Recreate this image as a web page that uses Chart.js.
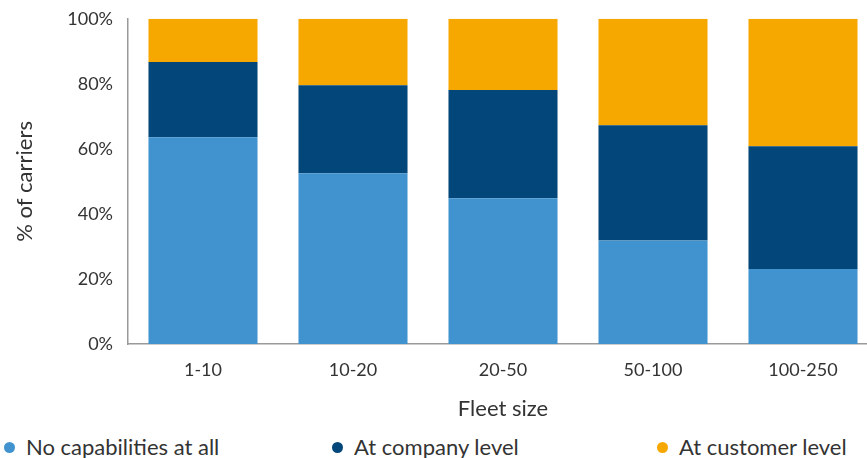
<!DOCTYPE html>
<html>
<head>
<meta charset="utf-8">
<script src="https://cdn.jsdelivr.net/npm/chart.js@4"></script>
<style>
  html, body { margin: 0; padding: 0; background: #fff; overflow: hidden; }
  #wrap { position: relative; width: 867px; height: 458px; overflow: hidden; }
  #chart { position: absolute; left: 0; top: -7px; }
  .legend { position: absolute; top: 433px; font: 22px Lato, sans-serif; line-height: 28px; color: #333; white-space: nowrap; }
  .legend span.dot { display: inline-block; width: 11px; height: 11px; border-radius: 50%; margin-right: 11px; vertical-align: 2px; }
</style>
</head>
<body>
<div id="wrap">
  <canvas id="chart" width="880" height="430"></canvas>
  <div class="legend" id="leg0" style="left:4px"></div>
  <div class="legend" id="leg1" style="left:332px"></div>
  <div class="legend" id="leg2" style="left:657px"></div>
</div>
<script>
// Share of carriers by fleet size, stacked to 100%
const fleetSizes = ["1-10", "10-20", "20-50", "50-100", "100-250"];
const noCapabilities = [63.6, 52.5, 44.8, 31.8, 23.1];
const companyLevel = [23.1, 27.1, 33.3, 35.5, 37.7];
const customerLevel = [13.3, 20.4, 21.9, 32.7, 39.2];
const yTicks = [0, 20, 40, 60, 80, 100];

const seriesNames = ["No capabilities at all", "At company level", "At customer level"];
const seriesColors = ["#4193cf", "#02467a", "#f7a800"];

const textColor = "#333";
const tickFont = { family: "Lato, sans-serif", size: 18 };
const titleFont = { family: "Lato, sans-serif", size: 22 };

const datasets = [noCapabilities, companyLevel, customerLevel].map((data, i) => ({
  label: seriesNames[i],
  data,
  backgroundColor: seriesColors[i],
  borderWidth: 0,
  barPercentage: 0.727,
  categoryPercentage: 1,
}));

new Chart(document.getElementById("chart"), {
  type: "bar",
  data: { labels: fleetSizes, datasets },
  options: {
    responsive: false,
    animation: false,
    devicePixelRatio: 1,
    layout: { padding: { top: 12, right: 2, bottom: 1, left: 0 } },
    plugins: { legend: { display: false }, tooltip: { enabled: false } },
    scales: {
      x: {
        stacked: true,
        grid: { display: false, drawTicks: false },
        border: { color: "#9a9a9a", width: 1.5 },
        ticks: { color: textColor, font: tickFont, padding: 15 },
        title: { display: true, text: "Fleet size", color: textColor, font: titleFont, padding: { top: 0, bottom: 0 } },
      },
      y: {
        stacked: true,
        min: 0,
        max: 100,
        grid: { display: false, drawTicks: false },
        border: { color: "#9a9a9a", width: 1.5 },
        afterBuildTicks: (scale) => { scale.ticks = yTicks.map((v) => ({ value: v })); },
        afterFit: (scale) => { scale.width = 128; },
        ticks: { color: textColor, font: tickFont, padding: 15, callback: (v) => v + "%" },
        title: { display: true, text: "% of carriers", color: textColor, font: titleFont, padding: { top: 12, bottom: 0 } },
      },
    },
  },
});

// Legend row under the chart
seriesNames.forEach((name, i) => {
  const el = document.getElementById("leg" + i);
  const dot = document.createElement("span");
  dot.className = "dot";
  dot.style.background = seriesColors[i];
  el.appendChild(dot);
  el.appendChild(document.createTextNode(name));
});
</script>
</body>
</html>
